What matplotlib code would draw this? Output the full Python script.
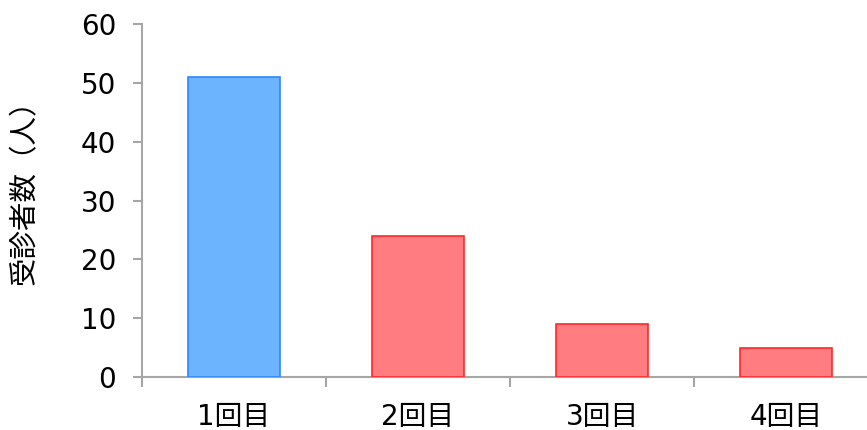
import matplotlib
matplotlib.use("Agg")
import matplotlib.pyplot as plt

categories = ["1回目", "2回目", "3回目", "4回目"]
counts = [51, 24, 9, 5]
y_ticks = [0, 10, 20, 30, 40, 50, 60]
y_label = "受診者数（人）"

fill_colors = ["#6DB4FF", "#FF7C80", "#FF7C80", "#FF7C80"]
edge_colors = ["#2F86FF", "#FF2828", "#FF2828", "#FF2828"]

W, H = 867, 430
fig = plt.figure(figsize=(W / 100, H / 100), dpi=100)
left, right, top, bottom = 142, 878, 24, 377
ax = fig.add_axes([left / W, (H - bottom) / H, (right - left) / W, (bottom - top) / H])

x = list(range(len(categories)))
ax.bar(x, counts, width=0.5, color=fill_colors, edgecolor=edge_colors, linewidth=1.2, zorder=3)

ax.set_xlim(-0.5, len(categories) - 0.5)
ax.set_ylim(0, 60)
ax.set_yticks(y_ticks)
ax.set_yticklabels([str(v) for v in y_ticks], fontsize=20, family=["DejaVu Sans"])

# category boundaries carry the tick marks; labels sit at the bar centers
ax.set_xticks([i - 0.5 for i in range(len(categories) + 1)])
ax.set_xticklabels([])
ax.set_xticks(x, minor=True)
ax.set_xticklabels(categories, minor=True, fontsize=20, family=["DejaVu Sans", "Noto Sans CJK JP"])
ax.tick_params(axis="x", which="minor", length=0, pad=19)
ax.tick_params(axis="x", which="major", length=7, width=1.5, color="#A6A6A6", direction="out")
ax.tick_params(axis="y", length=6.5, width=1.5, color="#A6A6A6", direction="out", pad=12)

for side in ["top", "right"]:
    ax.spines[side].set_visible(False)
for side in ["left", "bottom"]:
    ax.spines[side].set_color("#A6A6A6")
    ax.spines[side].set_linewidth(1.5)

fig.text(25 / W, 1 - 185 / H, y_label, rotation=90, ha="center", va="center",
         fontsize=20.5, family=["Noto Sans CJK JP", "DejaVu Sans"])

fig.savefig("out.png", dpi=100, facecolor="white")
